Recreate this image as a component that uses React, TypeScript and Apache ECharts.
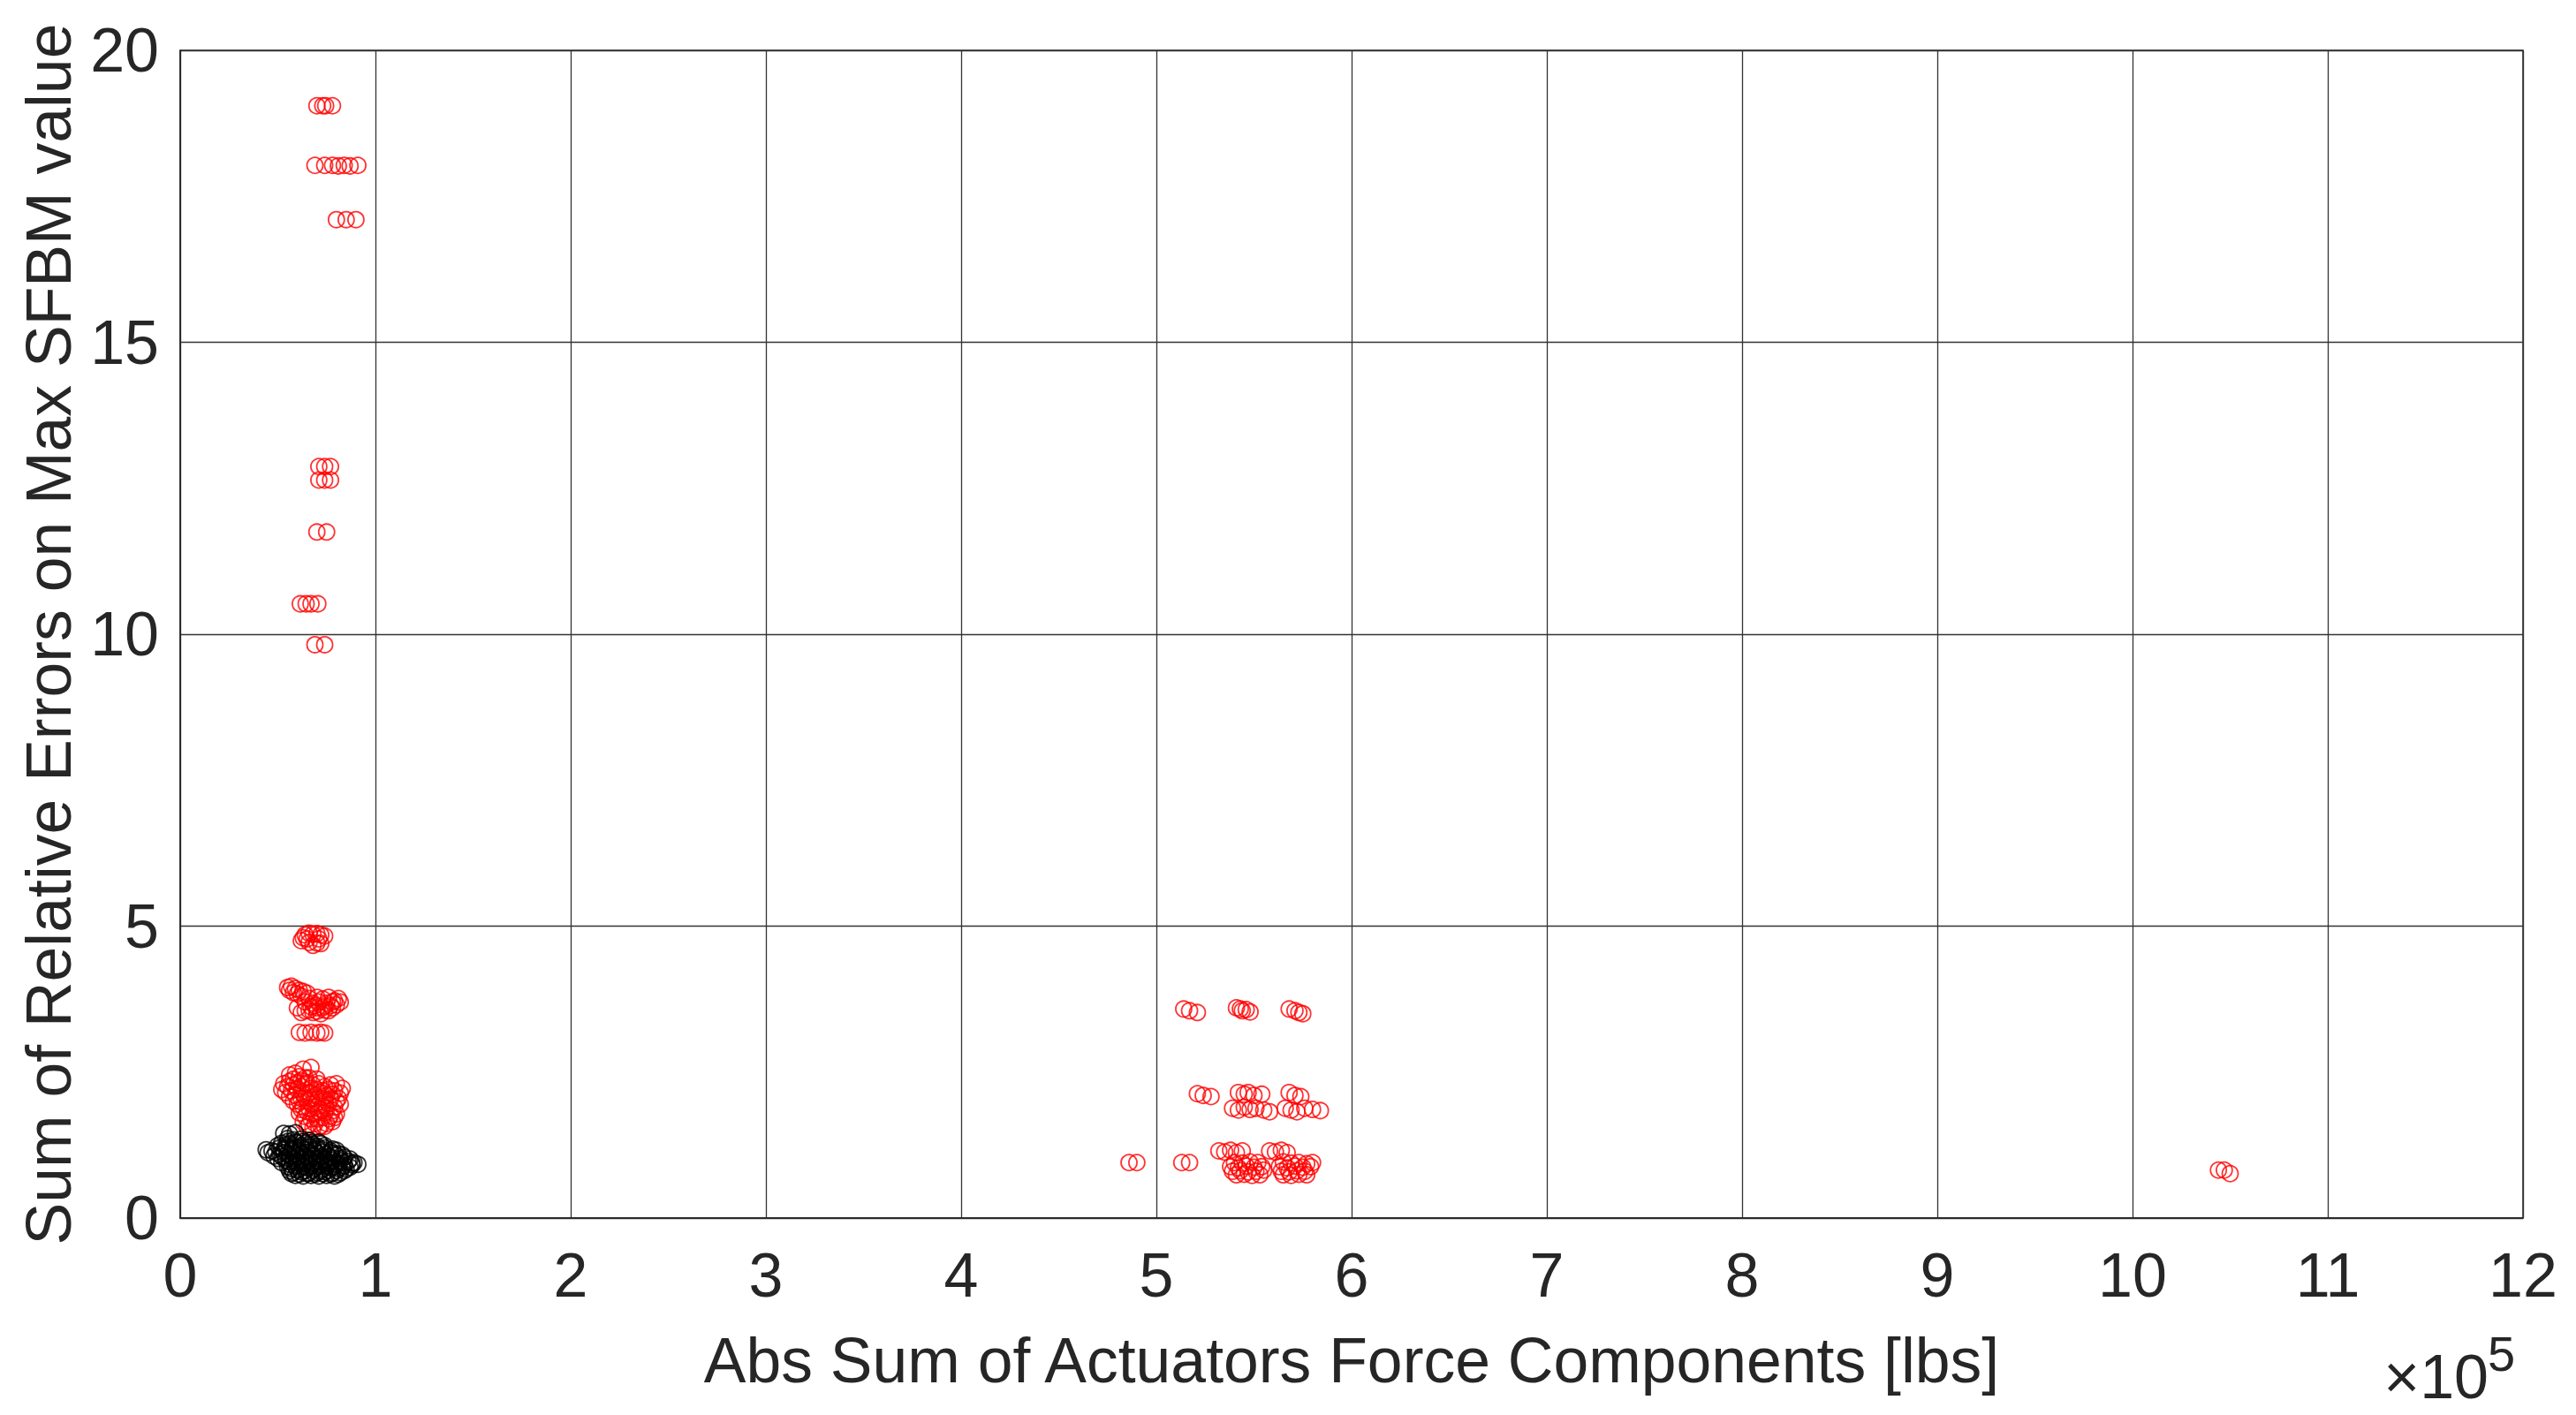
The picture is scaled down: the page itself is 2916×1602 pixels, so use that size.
import React, { useEffect, useRef } from "react";
import * as echarts from "echarts";

// x values are in units of 10^5 lbs
const xTickValues = [0, 1, 2, 3, 4, 5, 6, 7, 8, 9, 10, 11, 12];
const yTickValues = [0, 5, 10, 15, 20];

const redHigh: number[][] = [
  [0.70, 19.05], [0.73, 19.05], [0.745, 19.05], [0.78, 19.05],
  [0.69, 18.03], [0.74, 18.03], [0.78, 18.03], [0.81, 18.02], [0.84, 18.03], [0.87, 18.02], [0.91, 18.03],
  [0.80, 17.1], [0.85, 17.1], [0.90, 17.1],
  [0.71, 12.87], [0.74, 12.87], [0.77, 12.87],
  [0.71, 12.64], [0.74, 12.64], [0.77, 12.64],
  [0.70, 11.75], [0.75, 11.75],
  [0.615, 10.52], [0.645, 10.52], [0.67, 10.52], [0.705, 10.52],
  [0.69, 9.82], [0.74, 9.82],
];

const redLeftMid: number[][] = [
  [0.62, 4.75], [0.64, 4.85], [0.66, 4.88], [0.68, 4.86], [0.70, 4.87], [0.72, 4.85], [0.74, 4.83],
  [0.66, 4.72], [0.70, 4.71], [0.63, 4.80], [0.68, 4.67], [0.72, 4.70], [0.65, 4.78], [0.71, 4.78],
  [0.55, 3.95], [0.57, 3.97], [0.59, 3.93], [0.61, 3.90], [0.63, 3.88], [0.65, 3.85], [0.58, 3.86],
  [0.62, 3.80], [0.66, 3.76], [0.70, 3.78], [0.73, 3.75], [0.76, 3.78], [0.79, 3.72], [0.82, 3.70],
  [0.67, 3.62], [0.70, 3.60], [0.74, 3.63], [0.78, 3.60], [0.64, 3.55], [0.68, 3.52], [0.72, 3.50],
  [0.76, 3.55], [0.80, 3.65], [0.60, 3.60], [0.62, 3.52],
  [0.56, 3.90], [0.60, 3.84], [0.64, 3.70], [0.68, 3.68], [0.71, 3.70], [0.75, 3.68], [0.78, 3.70],
  [0.81, 3.76], [0.66, 3.56], [0.70, 3.54], [0.74, 3.56], [0.69, 3.64], [0.73, 3.60], [0.77, 3.64],
  [0.61, 3.18], [0.64, 3.17], [0.67, 3.18], [0.70, 3.17], [0.72, 3.18], [0.74, 3.17],
];

const redLeftLow: number[][] = [
  [0.63, 2.55], [0.67, 2.58], [0.56, 2.45], [0.59, 2.48], [0.61, 2.42], [0.64, 2.40],
  [0.53, 2.30], [0.55, 2.25], [0.58, 2.28], [0.60, 2.20], [0.52, 2.20], [0.54, 2.15], [0.57, 2.18],
  [0.62, 2.25], [0.65, 2.31], [0.68, 2.28], [0.71, 2.30], [0.74, 2.25], [0.77, 2.28], [0.80, 2.30],
  [0.83, 2.22], [0.66, 2.15], [0.69, 2.10], [0.72, 2.15], [0.75, 2.10], [0.78, 2.12], [0.81, 2.05],
  [0.62, 2.05], [0.65, 2.00], [0.60, 1.95], [0.63, 1.90], [0.67, 1.95], [0.70, 1.98], [0.73, 1.92],
  [0.76, 1.95], [0.79, 1.90], [0.82, 1.95], [0.58, 2.00], [0.61, 1.80], [0.65, 1.82], [0.68, 1.78],
  [0.71, 1.82], [0.74, 1.80], [0.77, 1.75], [0.80, 1.78], [0.63, 1.65], [0.66, 1.60], [0.69, 1.62],
  [0.72, 1.58], [0.75, 1.62], [0.78, 1.65], [0.70, 1.70],
  [0.58, 2.38], [0.62, 2.35], [0.66, 2.40], [0.70, 2.38], [0.56, 2.34], [0.60, 2.32], [0.64, 2.30],
  [0.67, 2.22], [0.70, 2.20], [0.73, 2.18], [0.76, 2.20], [0.79, 2.18], [0.82, 2.14], [0.63, 2.12],
  [0.59, 2.10], [0.56, 2.08], [0.61, 2.00], [0.64, 2.06], [0.67, 2.04], [0.71, 2.06], [0.74, 2.02],
  [0.77, 2.04], [0.80, 2.00], [0.62, 1.86], [0.66, 1.88], [0.69, 1.90], [0.72, 1.86], [0.75, 1.88],
  [0.78, 1.84], [0.64, 1.74], [0.67, 1.70], [0.73, 1.72], [0.76, 1.70], [0.79, 1.72], [0.65, 1.56],
  [0.68, 1.54], [0.71, 1.55], [0.74, 1.57],
];

const redMiddle: number[][] = [
  [5.14, 3.58], [5.17, 3.55], [5.21, 3.52],
  [5.41, 3.60], [5.43, 3.58], [5.44, 3.55], [5.46, 3.57], [5.48, 3.53],
  [5.68, 3.58], [5.71, 3.55], [5.73, 3.52], [5.75, 3.50],
  [5.21, 2.13], [5.24, 2.10], [5.28, 2.08],
  [5.42, 2.15], [5.45, 2.12], [5.47, 2.15], [5.50, 2.10], [5.54, 2.12],
  [5.68, 2.15], [5.71, 2.10], [5.74, 2.08],
  [5.39, 1.88], [5.42, 1.85], [5.45, 1.90], [5.48, 1.86], [5.51, 1.88], [5.55, 1.85], [5.58, 1.82],
  [5.66, 1.88], [5.69, 1.85], [5.72, 1.82], [5.76, 1.88], [5.80, 1.86], [5.84, 1.84],
  [5.32, 1.15], [5.35, 1.13], [5.38, 1.16], [5.41, 1.12], [5.44, 1.15],
  [5.58, 1.15], [5.61, 1.13], [5.64, 1.16], [5.67, 1.12],
  [5.40, 0.95], [5.44, 0.94], [5.48, 0.96], [5.52, 0.95],
  [5.65, 0.96], [5.69, 0.94], [5.73, 0.95], [5.77, 0.93], [5.80, 0.95],
  [5.38, 0.88], [5.42, 0.86], [5.46, 0.89], [5.50, 0.87], [5.54, 0.88],
  [5.63, 0.88], [5.67, 0.86], [5.71, 0.89], [5.75, 0.87], [5.79, 0.88],
  [5.39, 0.80], [5.43, 0.81], [5.47, 0.79], [5.51, 0.80], [5.55, 0.82],
  [5.64, 0.80], [5.68, 0.79], [5.72, 0.81], [5.76, 0.80],
  [5.41, 0.74], [5.45, 0.75], [5.49, 0.73], [5.53, 0.74],
  [5.65, 0.74], [5.69, 0.73], [5.73, 0.75], [5.77, 0.74],
  [4.86, 0.95], [4.90, 0.95], [5.13, 0.95], [5.17, 0.95],
];

const redFar: number[][] = [
  [10.44, 0.82], [10.47, 0.82], [10.50, 0.76],
];

const blackPoints: number[][] = [
  [0.53, 1.45], [0.56, 1.44], [0.59, 1.46],
  [0.55, 1.36], [0.58, 1.34], [0.62, 1.35], [0.66, 1.33],
  [0.52, 1.28], [0.56, 1.27], [0.60, 1.29], [0.64, 1.28], [0.68, 1.26], [0.72, 1.27],
  [0.44, 1.17], [0.47, 1.15], [0.51, 1.20], [0.54, 1.21], [0.58, 1.19], [0.62, 1.20], [0.66, 1.21],
  [0.70, 1.19], [0.74, 1.20], [0.78, 1.18],
  [0.45, 1.12], [0.49, 1.13], [0.53, 1.12], [0.57, 1.14], [0.61, 1.13], [0.65, 1.12], [0.69, 1.14],
  [0.73, 1.13], [0.77, 1.12], [0.81, 1.10],
  [0.48, 1.06], [0.52, 1.05], [0.56, 1.07], [0.60, 1.06], [0.64, 1.05], [0.68, 1.07], [0.72, 1.06],
  [0.76, 1.05], [0.80, 1.07], [0.84, 1.04],
  [0.54, 0.99], [0.58, 0.98], [0.62, 1.00], [0.66, 0.99], [0.70, 0.98], [0.74, 1.00], [0.78, 0.99],
  [0.82, 0.98], [0.86, 0.97], [0.89, 0.95],
  [0.56, 0.92], [0.60, 0.91], [0.64, 0.93], [0.68, 0.92], [0.72, 0.91], [0.76, 0.93], [0.80, 0.92],
  [0.84, 0.90], [0.88, 0.91],
  [0.57, 0.85], [0.61, 0.84], [0.65, 0.86], [0.69, 0.85], [0.73, 0.84], [0.77, 0.86], [0.81, 0.85],
  [0.85, 0.84],
  [0.58, 0.78], [0.62, 0.79], [0.66, 0.77], [0.70, 0.78], [0.74, 0.79], [0.78, 0.77], [0.82, 0.78],
  [0.59, 0.73], [0.63, 0.72], [0.67, 0.73], [0.71, 0.72], [0.75, 0.73], [0.79, 0.72],
  [0.55, 1.31], [0.59, 1.30], [0.63, 1.31], [0.67, 1.29], [0.71, 1.30],
  [0.50, 1.24], [0.54, 1.25], [0.58, 1.23], [0.62, 1.24], [0.66, 1.25], [0.70, 1.23], [0.74, 1.24],
  [0.53, 1.16], [0.57, 1.17], [0.61, 1.16], [0.65, 1.17], [0.69, 1.16], [0.73, 1.17], [0.77, 1.15],
  [0.80, 1.16], [0.51, 1.09], [0.55, 1.10], [0.59, 1.09], [0.63, 1.10], [0.67, 1.09], [0.71, 1.10],
  [0.75, 1.09], [0.79, 1.10], [0.83, 1.08], [0.50, 1.02], [0.54, 1.03], [0.58, 1.02], [0.62, 1.03],
  [0.66, 1.02], [0.70, 1.03], [0.74, 1.02], [0.78, 1.03], [0.82, 1.02], [0.87, 1.01], [0.52, 0.95],
  [0.56, 0.96], [0.60, 0.95], [0.64, 0.96], [0.68, 0.95], [0.72, 0.96], [0.76, 0.95], [0.80, 0.96],
  [0.84, 0.95], [0.88, 0.94], [0.91, 0.92], [0.55, 0.88], [0.59, 0.89], [0.63, 0.88], [0.67, 0.89],
  [0.71, 0.88], [0.75, 0.89], [0.79, 0.88], [0.83, 0.87], [0.87, 0.87], [0.56, 0.81], [0.60, 0.82],
  [0.64, 0.81], [0.68, 0.82], [0.72, 0.81], [0.76, 0.82], [0.80, 0.81], [0.84, 0.81], [0.57, 0.76],
  [0.61, 0.75], [0.65, 0.76], [0.69, 0.75], [0.73, 0.76], [0.77, 0.75], [0.81, 0.75],
];

const xAxisTitle = "Abs Sum of Actuators Force Components [lbs]";
const yAxisTitle = "Sum of Relative Errors on Max SFBM value";

const FONT = "Liberation Sans, Arial, Helvetica, sans-serif";
const TEXT = "#262626";

export default function App() {
  const ref = useRef<HTMLDivElement>(null);
  useEffect(() => {
    const chart = echarts.init(ref.current!, null, { renderer: "svg" });
    const itemRed = { color: "transparent", borderColor: "#ff0000", borderWidth: 1.8 };
    const itemBlack = { color: "transparent", borderColor: "#000000", borderWidth: 1.8 };
    chart.setOption({
      animation: false,
      backgroundColor: "#ffffff",
      grid: {
        left: 204, right: 60, top: 57, bottom: 223,
        show: true, borderColor: TEXT, borderWidth: 1.5, backgroundColor: "transparent",
      },
      xAxis: {
        type: "value", min: xTickValues[0], max: xTickValues[xTickValues.length - 1], interval: 1,
        axisLine: { show: true, onZero: false, lineStyle: { color: TEXT, width: 1.5 } },
        axisTick: { show: false },
        splitLine: { show: true, lineStyle: { color: "#333333", width: 1.3 } },
        axisLabel: { fontSize: 70, color: TEXT, margin: 30, fontFamily: FONT },
        name: xAxisTitle, nameLocation: "middle", nameGap: 125,
        nameTextStyle: { fontSize: 71.5, color: TEXT, fontFamily: FONT },
      },
      yAxis: {
        type: "value", min: yTickValues[0], max: yTickValues[yTickValues.length - 1], interval: 5,
        axisLine: { show: true, onZero: false, lineStyle: { color: TEXT, width: 1.5 } },
        axisTick: { show: false },
        splitLine: { show: true, lineStyle: { color: "#333333", width: 1.3 } },
        axisLabel: { fontSize: 70, color: TEXT, margin: 24, fontFamily: FONT },
        name: yAxisTitle, nameLocation: "middle", nameGap: 110,
        nameTextStyle: { fontSize: 71.5, color: TEXT, fontFamily: FONT },
      },
      graphic: [
        {
          type: "text", x: 2817, y: 1559,
          style: { text: "×10", fontSize: 70, fill: TEXT, fontFamily: FONT, align: "right", verticalAlign: "middle" },
        },
        {
          type: "text", x: 2816, y: 1532,
          style: { text: "5", fontSize: 56, fill: TEXT, fontFamily: FONT, align: "left", verticalAlign: "middle" },
        },
      ],
      series: [
        { type: "scatter", symbol: "circle", symbolSize: 18, itemStyle: itemRed,
          data: [...redHigh, ...redLeftMid, ...redLeftLow, ...redMiddle, ...redFar] },
        { type: "scatter", symbol: "circle", symbolSize: 18, itemStyle: itemBlack, data: blackPoints },
      ],
    });
    return () => chart.dispose();
  }, []);
  return (
    <div
      ref={ref}
      style={{ position: "fixed", left: 0, top: 0, width: 2916, height: 1602, background: "#fff" }}
    />
  );
}
